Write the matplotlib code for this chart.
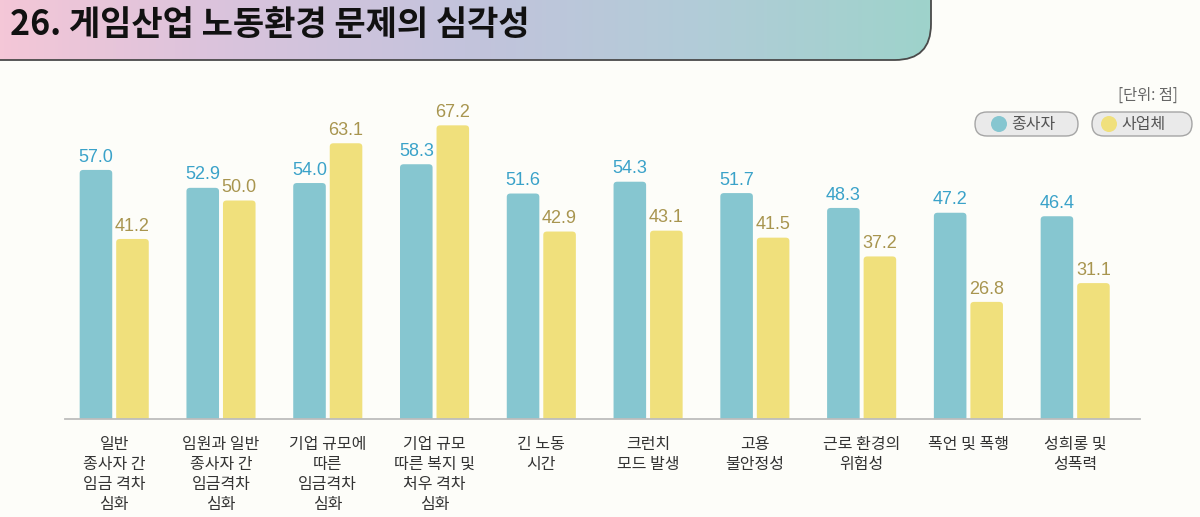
import numpy as np
import matplotlib
matplotlib.use('Agg')
import matplotlib.pyplot as plt
from matplotlib.patches import FancyBboxPatch, Circle
from matplotlib.colors import LinearSegmentedColormap

plt.rcParams['font.family'] = ['Noto Sans CJK KR', 'DejaVu Sans']

# 데이터
categories = ['일반\n종사자 간\n임금 격차\n심화', '임원과 일반\n종사자 간\n임금격차\n심화',
              '기업 규모에\n따른\n임금격차\n심화', '기업 규모\n따른 복지 및\n처우 격차\n심화',
              '긴 노동\n시간', '크런치\n모드 발생', '고용\n불안정성', '근로 환경의\n위험성',
              '폭언 및 폭행', '성희롱 및\n성폭력']
worker = [57.0, 52.9, 54.0, 58.3, 51.6, 54.3, 51.7, 48.3, 47.2, 46.4]
company = [41.2, 50.0, 63.1, 67.2, 42.9, 43.1, 41.5, 37.2, 26.8, 31.1]
series_names = ['종사자', '사업체']

bg = '#FDFDF9'
blue = '#86C6D0'
yellow = '#F0E07C'
blue_txt = '#3AA2C9'
gold_txt = '#A8954F'

fig = plt.figure(figsize=(12, 5.17), dpi=100, facecolor=bg)

# 배경 레이어 (픽셀 좌표)
bgax = fig.add_axes([0, 0, 1, 1], zorder=0)
bgax.set_xlim(0, 1200)
bgax.set_ylim(517, 0)
bgax.axis('off')

# 제목 띠 (그라데이션)
band = FancyBboxPatch((-40, -60), 971, 120, boxstyle='round,pad=0,rounding_size=36',
                      facecolor='none', edgecolor='#4A4A4A', lw=1.3, zorder=3)
bgax.add_patch(band)
cmap = LinearSegmentedColormap.from_list('band', ['#F4C7D7', '#D9C3DD', '#C3C3DC', '#B2CCD8', '#9ED3CB'])
grad = np.linspace(0, 1, 256).reshape(1, -1)
im = bgax.imshow(grad, cmap=cmap, extent=(0, 931, 60, -60), aspect='auto', zorder=2)
im.set_clip_path(band)
bgax.set_xlim(0, 1200)
bgax.set_ylim(517, 0)
bgax.text(10, 25, '26. 게임산업 노동환경 문제의 심각성', fontsize=24.5, fontweight='bold',
          color='#111111', va='center', ha='left', zorder=4)

# 단위, 범례
bgax.text(1178, 95, '[단위: 점]', fontsize=11, color='#666666', ha='right', va='center')
pills = [(975, 1078, 999, blue, series_names[0]), (1092, 1192, 1109, yellow, series_names[1])]
for x0, x1, cx, col, name in pills:
    bgax.add_patch(FancyBboxPatch((x0, 112), x1 - x0, 24, boxstyle='round,pad=0,rounding_size=12',
                                  facecolor='#EAEAEA', edgecolor='#A5A5A5', lw=1))
    bgax.add_patch(Circle((cx, 124), 8, facecolor=col, edgecolor='none'))
    bgax.text(cx + 12, 124, name, fontsize=11.5, color='#555555', va='center', ha='left')

# 막대 그래프
ax = fig.add_axes([65 / 1200, 98 / 517, 1075 / 1200, 319 / 517], zorder=1)
ax.set_facecolor('none')
x = np.arange(len(categories))
off = 0.171
w = 0.305
b1 = ax.bar(x - off, worker, w, color=blue, zorder=2)
b2 = ax.bar(x + off, company, w, color=yellow, zorder=2)

# 막대 위쪽 모서리 둥글게
for bars, col in [(b1, blue), (b2, yellow)]:
    for r in bars:
        r.set_visible(False)
        ax.add_patch(FancyBboxPatch((r.get_x(), -2), r.get_width(), r.get_height() + 2,
                                    boxstyle='round,pad=0,rounding_size=0.035',
                                    mutation_aspect=22, facecolor=col, edgecolor='none', zorder=2))

for i in range(len(categories)):
    ax.text(x[i] - off, worker[i] + 1.0, '%.1f' % worker[i], ha='center', va='bottom',
            fontsize=13, color=blue_txt, family=['Liberation Sans', 'DejaVu Sans'])
    ax.text(x[i] + off, company[i] + 1.0, '%.1f' % company[i], ha='center', va='bottom',
            fontsize=13, color=gold_txt, family=['Liberation Sans', 'DejaVu Sans'])

ax.set_xlim(-0.461, 9.607)
ax.set_ylim(0, 73)
ax.set_xticks(x)
ax.set_xticklabels(categories, fontsize=11.5, color='#333333', linespacing=1.25)
ax.tick_params(axis='x', length=0, pad=12)
ax.set_yticks([])
for s in ['top', 'right', 'left']:
    ax.spines[s].set_visible(False)
ax.spines['bottom'].set_color('#BDBDBD')
ax.spines['bottom'].set_linewidth(1.3)
ax.spines['bottom'].set_zorder(3)

plt.savefig('out.png', dpi=100, facecolor=bg)
